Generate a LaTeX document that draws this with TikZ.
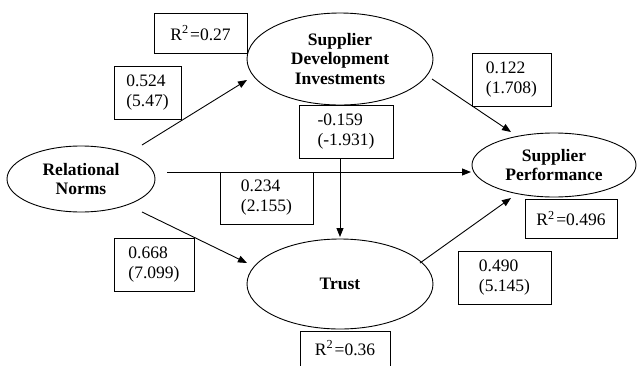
\documentclass[tikz,border=0pt]{standalone}
\usepackage{fontspec}
\setmainfont{Liberation Serif}
\usetikzlibrary{shapes.geometric,arrows.meta}
\newcommand{\rsq}{R\textsuperscript{2}\kern1.5pt=}
\tikzset{
  fnt/.style={font=\fontsize{17.5}{20}\selectfont},
  construct/.style={ellipse,draw,line width=0.9pt,inner sep=0pt,align=center,
    font=\fontsize{17.5}{19.5}\selectfont\bfseries},
  coef/.style={draw,rectangle,line width=0.9pt,inner sep=0pt,align=left,fnt},
  path arrow/.style={line width=0.9pt,-{Triangle[length=9pt,width=7pt]}},
}
\begin{document}
\begin{tikzpicture}[x=1pt,y=-1pt]
\useasboundingbox (0,0) rectangle (638,365);
\clip (0,0) rectangle (638,365);
% constructs
\node[construct,minimum width=186,minimum height=92] (SDI) at (340,59) {Supplier\\Development\\Investments};
\node[construct,minimum width=148,minimum height=66] (RN) at (81,179) {Relational\\Norms};
\node[construct,minimum width=164,minimum height=64] (SP) at (554,165) {Supplier\\Performance};
\node[construct,minimum width=186,minimum height=90] (TR) at (340,284) {Trust};
% connector ends
\coordinate (a1) at (142,145); \coordinate (b1) at (247,80);
\coordinate (a2) at (167,172); \coordinate (b2) at (471,172);
\coordinate (a3) at (142,212); \coordinate (b3) at (247,263);
\coordinate (a4) at (340,105); \coordinate (b4) at (340,237);
\coordinate (a5) at (432,79);  \coordinate (b5) at (511,132);
\coordinate (a6) at (420,263); \coordinate (b6) at (511,198);
\draw[path arrow] (a1) -- (b1);
\draw[path arrow] (a2) -- (b2);
\draw[path arrow] (a3) -- (b3);
\draw[path arrow] (a4) -- (b4);
\draw[path arrow] (a5) -- (b5);
\draw[path arrow] (a6) -- (b6);
% coefficient boxes
\node[coef,minimum width=93,minimum height=40] (r1) at (200.5,33) {\rsq0.27};
\node[coef,minimum width=67,minimum height=53] (c1) at (147.5,92.5) {0.524\\(5.47)};
\node[coef,minimum width=79,minimum height=53] (c2) at (511.5,79.5) {0.122\\(1.708)};
\node[coef,fill=white,minimum width=94,minimum height=53] (c3) at (346,131.5) {-0.159\\(-1.931)};
\node[coef,minimum width=93,minimum height=52] (c4) at (266.5,198) {0.234\\(2.155)};
\node[coef,minimum width=92,minimum height=39] (r2) at (571,218.5) {\rsq0.496};
\node[coef,minimum width=80,minimum height=53] (c5) at (154,264.5) {0.668\\(7.099)};
\node[coef,minimum width=93,minimum height=53] (c6) at (504.5,277.5) {0.490\\(5.145)};
\node[coef,minimum width=90,minimum height=42,anchor=north] (r3) at (345,331) {};
\node[fnt] (r3t) at (345,348) {\rsq0.36};
\end{tikzpicture}
\end{document}
